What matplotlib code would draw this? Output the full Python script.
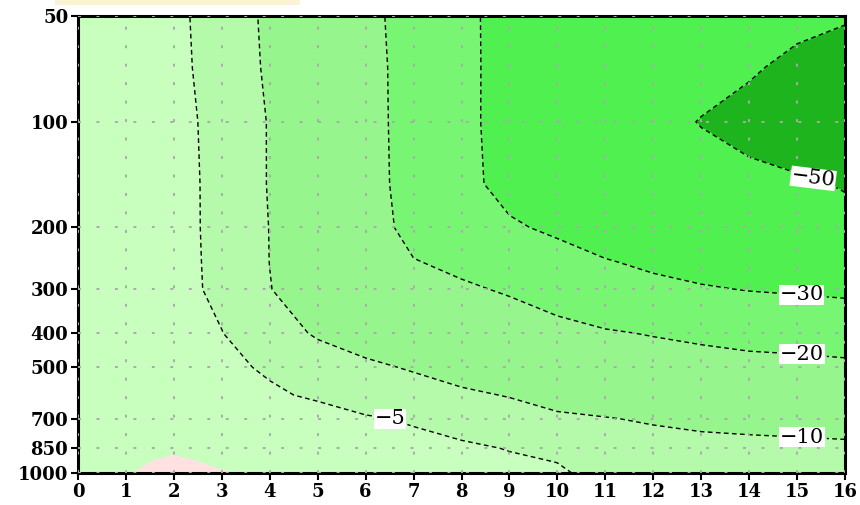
import numpy as np
import matplotlib.pyplot as plt
from matplotlib.patches import Rectangle
from matplotlib.ticker import NullLocator

plt.rcParams['lines.dashed_pattern'] = [3.4, 2.4]

# grid: x = 0..16, pressure levels (hPa)
x = np.arange(17)
lev = [1000, 925, 850, 700, 600, 500, 400, 300, 250, 200, 150, 100, 70, 50]

# field values, one row per pressure level (x = 0 .. 16)
t1000 = [-0.5, -0.2, 1.0, 0.2, -0.4, -1.2, -2.0, -2.7, -3.4, -4.0, -4.7, -5.7, -6.3, -6.8, -7.2, -7.5, -7.7]
t925 = [-0.7, -0.6, 0.5, -0.6, -1.0, -1.7, -2.6, -3.3, -4.2, -4.7, -5.05, -6.3, -7.0, -7.5, -8.0, -8.3, -8.6]
t850 = [-1.0, -1.3, -0.6, -1.6, -2.0, -2.4, -3.4, -4.1, -4.6, -5.1, -6.0, -7.2, -8.0, -8.6, -8.8, -9.0, -9.3]
t700 = [-1.3, -1.8, -1.6, -2.6, -3.5, -3.8, -4.7, -5.3, -6.0, -7.2, -9.3, -9.8, -10.5, -11.0, -11.3, -11.5, -11.5]
t600 = [-1.5, -2.0, -2.3, -3.3, -4.6, -5.4, -6.5, -7.5, -9.0, -10.3, -11.5, -12.5, -13.5, -14.0, -14.5, -15.0, -15.5]
t500 = [-1.6, -2.2, -2.9, -4.4, -5.34, -7.5, -9.0, -10.5, -12.3, -13.5, -15.0, -16.0, -17.0, -17.8, -18.5, -19.0, -19.4]
t400 = [-1.6, -2.3, -3.3, -4.9, -8.0, -10.5, -12.4, -14.0, -15.5, -17.0, -18.5, -19.5, -20.3, -21.0, -21.5, -21.4, -21.4]
t300 = [-1.5, -2.3, -3.6, -5.93, -9.85, -13.0, -15.5, -17.5, -19.3, -20.5, -22.0, -24.0, -27.75, -29.25, -30.3, -31.0, -31.9]
t250 = [-1.4, -2.3, -3.7, -5.96, -10.05, -13.6, -16.5, -19.8, -21.1, -23.5, -26.5, -29.56, -31.5, -33.0, -35.0, -36.0, -38.0]
t200 = [-1.2, -2.2, -3.8, -5.98, -10.1, -14.0, -17.6, -21.6, -26.0, -28.9, -31.5, -34.0, -36.0, -38.0, -40.0, -42.0, -45.4]
t150 = [-1.1, -2.3, -3.8, -6.0, -10.3, -14.2, -18.0, -22.0, -27.8, -32.5, -36.0, -40.0, -42.0, -44.0, -45.4, -48.0, -51.0]
t100 = [-1.0, -2.4, -3.9, -6.1, -10.3, -14.5, -18.2, -22.0, -28.0, -33.0, -37.0, -42.0, -46.0, -50.5, -55.0, -58.0, -60.0]
t70 = [-1.0, -2.5, -4.0, -6.6, -10.8, -14.8, -18.3, -22.0, -28.3, -32.5, -36.0, -40.0, -43.0, -46.0, -48.5, -53.0, -52.8]
t50 = [-1.0, -2.5, -4.0, -7.0, -11.0, -15.0, -18.4, -22.4, -28.5, -32.3, -35.0, -38.0, -41.0, -43.0, -45.0, -47.0, -49.5]

fill_levels = [-80, -50, -30, -20, -10, -5, 0, 5]
fill_colors = ['#1EB41E', '#50F050', '#78F573', '#96F58C', '#B4FAAA', '#C8FFBE', '#FFE1E1']
line_levels = [-50, -30, -20, -10, -5]
label_pos = [(15.3, 150), (15.1, 308), (15.1, 461), (15.1, 790), (6.5, 706)]
label_rot = [-7, 0, 0, 0, 0]

yticks = [1000, 850, 700, 500, 400, 300, 200, 100, 50]
xticks = list(range(17))

T = np.array([t1000, t925, t850, t700, t600, t500, t400, t300,
              t250, t200, t150, t100, t70, t50])
X, P = np.meshgrid(x, lev)

fig = plt.figure(figsize=(8.6, 5.05), dpi=100)
ax = fig.add_axes([78 / 860, 32 / 505, 767 / 860, 457 / 505])

ax.contourf(X, P, T, levels=fill_levels, colors=fill_colors)
cs = ax.contour(X, P, T, levels=line_levels, colors='k',
                linewidths=1.0, linestyles='dashed')

ax.set_yscale('log')
ax.set_ylim(1000, 50)
ax.set_xlim(0, 16)

ax.set_yticks(yticks)
ax.set_yticklabels([str(v) for v in yticks])
ax.yaxis.set_minor_locator(NullLocator())
ax.set_xticks(xticks)
ax.set_xticklabels([str(v) for v in xticks])

for lab in ax.get_xticklabels() + ax.get_yticklabels():
    lab.set_fontfamily('DejaVu Serif')
    lab.set_fontweight('bold')
    lab.set_fontsize(13)
ax.tick_params(direction='out', length=5, width=1.5, pad=2)
for sp in ax.spines.values():
    sp.set_linewidth(2.2)

ax.grid(True, color='#aaaaaa', linestyle=(0, (1.5, 8)), linewidth=1.4)
ax.set_axisbelow(False)

labels = ax.clabel(cs, line_levels, manual=label_pos,
                   fmt=lambda v: '\u2212%d' % abs(v),
                   fontsize=15, inline=True, inline_spacing=3)
for t, rot in zip(labels, label_rot):
    t.set_fontfamily('DejaVu Serif')
    t.set_rotation(rot)
    t.set_bbox(dict(facecolor='white', edgecolor='none', pad=0.5))

# strip of the title box above the frame
fig.patches.append(Rectangle((55 / 860, 1 - 5 / 505), 245 / 860, 5 / 505,
                             transform=fig.transFigure, facecolor='#FBF3D5',
                             edgecolor='none'))

fig.savefig('out.png', dpi=100)
